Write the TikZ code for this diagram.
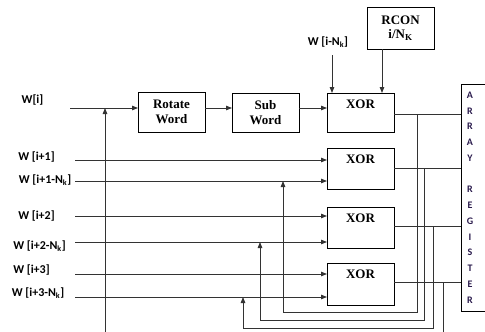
\documentclass[tikz,border=0pt]{standalone}
\usepackage{fontspec}
\setmainfont{Liberation Serif}
\newfontfamily\labfont{Carlito}
\usetikzlibrary{arrows.meta}
\definecolor{regtext}{RGB}{40,25,75}
\begin{document}
\begin{tikzpicture}[x=1pt,y=-1pt,
  box/.style={draw=black,line width=0.9pt,inner sep=0pt,outer sep=0pt,minimum width=67pt,
    font=\fontsize{13}{15}\selectfont\bfseries,align=center},
  xorbox/.style={box,minimum height=40pt,
    label={[anchor=north,inner sep=0pt,yshift=-6.5pt,font=\fontsize{13}{15}\selectfont\bfseries]north:XOR}},
  wlab/.style={inner sep=0pt,font=\labfont\fontsize{12}{14}\selectfont\bfseries},
  ln/.style={draw=black!80,line width=0.8pt},
  arr/.style={ln,-{Triangle[length=6pt,width=4.5pt]}},
  reglet/.style={inner sep=0pt,align=center,text=regtext,
    font=\labfont\fontsize{10}{15.77}\selectfont\bfseries}]
\useasboundingbox (0,0) rectangle (485,332);

% boxes
\node[box,minimum height=40pt] (rot) at (171.5,112) {Rotate\\Word};
\node[box,minimum height=39pt] (sub) at (265.5,112.5) {Sub\\Word};
\node[xorbox,minimum height=39pt] (x1) at (360.5,112.5) {};
\node[xorbox,minimum height=41pt] (x2) at (360.5,168.5) {};
\node[xorbox,minimum height=41pt] (x3) at (360.5,227.5) {};
\node[xorbox,minimum height=42pt] (x4) at (360.5,284) {};
\node[box,minimum height=42pt] (rcon) at (400.5,28) {RCON\\[-1pt]i/N\textsubscript{K}};
\node[draw=black,line width=0.9pt,inner sep=0pt,outer sep=0pt,minimum width=40pt,minimum height=227pt] (reg) at (481,197.5) {};
\node[reglet] (regtxt) at (470,197.5) {A\\R\\R\\A\\Y\\ \\R\\E\\G\\I\\S\\T\\E\\R};

% labels
\node[wlab] (lwi) at (32.5,100) {W[i]};
\node[wlab] (lw1) at (36.5,157) {W [i+1]};
\node[wlab] (lw1n) at (45,180) {W [i+1-N\textsubscript{k}]};
\node[wlab] (lw2) at (36.5,216) {W [i+2]};
\node[wlab] (lw2n) at (39.5,246) {W [i+2-N\textsubscript{k}]};
\node[wlab] (lw3) at (31.5,270) {W [i+3]};
\node[wlab] (lw3n) at (38,293) {W [i+3-N\textsubscript{k}]};
\node[wlab] (lwn) at (328,42) {W [i-N\textsubscript{k}]};

% coordinates of free ends
\coordinate (wi) at (70,108);
\coordinate (c1) at (75,160);
\coordinate (c1n) at (75,181);
\coordinate (c2) at (75,216);
\coordinate (c2n) at (75,242);
\coordinate (c3) at (75,274);
\coordinate (c3n) at (75,297);
\coordinate (bot) at (105,334);
\coordinate (wn) at (332,55);
\coordinate (rc) at (382,0);
\coordinate (o1) at (417,114);
\coordinate (o2) at (424,168);
\coordinate (o3) at (433,226);
\coordinate (o4) at (443,282);
\coordinate (f1) at (283,312);
\coordinate (f2) at (260,320);
\coordinate (f3) at (243,328);
\coordinate (f4) at (443,334);

% main path
\draw[arr] (wi) -- (wi -| rot.west);
\draw[arr] (rot.east |- wi) -- (sub.west |- wi);
\draw[arr] (sub.east |- wi) -- (x1.west |- wi);
\draw[arr] (bot) -- (bot |- wi);
\draw[arr] (wn) -- (wn |- x1.north);
\draw[arr] (rcon.south -| rc) -- (x1.north -| rc);

% inputs
\draw[arr] (c1) -- (c1 -| x2.west);
\draw[arr] (c1n) -- (c1n -| x2.west);
\draw[arr] (c2) -- (c2 -| x3.west);
\draw[arr] (c2n) -- (c2n -| x3.west);
\draw[arr] (c3) -- (c3 -| x4.west);
\draw[arr] (c3n) -- (c3n -| x4.west);

% outputs to register
\draw[ln] (x1.east |- o1) -- (reg.west |- o1);
\draw[ln] (x2.east |- o2) -- (reg.west |- o2);
\draw[ln] (x3.east |- o3) -- (reg.west |- o3);
\draw[ln] (x4.east |- o4) -- (reg.west |- o4);

% feedback
\draw[arr] (o1) -- (o1 |- f1) -- (f1) -- (f1 |- c1n);
\draw[arr] (o2) -- (o2 |- f2) -- (f2) -- (f2 |- c2n);
\draw[arr] (o3) -- (o3 |- f3) -- (f3) -- (f3 |- c3n);
\draw[ln] (o4) -- (f4);
\end{tikzpicture}
\end{document}
